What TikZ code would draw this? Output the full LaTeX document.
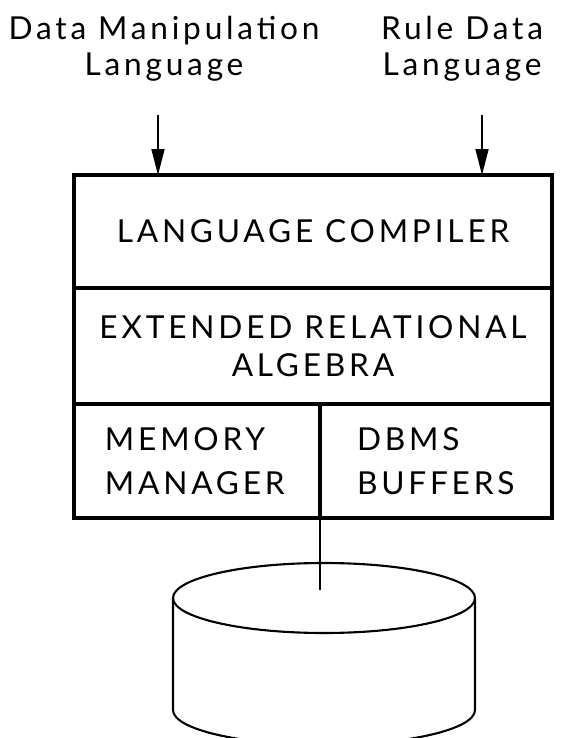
\documentclass[tikz,border=0pt]{standalone}
\usepackage{fontspec}
\setmainfont{Lato}[LetterSpace=12]
\usetikzlibrary{arrows.meta,positioning}
\tikzset{
  layer/.style={
    rectangle, draw=black, line width=3.2pt, outer sep=0pt, inner sep=0pt,
    minimum width=14.34cm, align=center, font=\fontsize{27}{32}\selectfont
  },
  halflayer/.style={layer, minimum height=3.42cm, align=left},
  inlabel/.style={font=\fontsize{27}{31}\selectfont, align=center, inner sep=0pt},
  flowarrow/.style={-{Triangle[length=22pt,width=11pt]}, line width=1.4pt},
  disk/.style={line width=1.8pt},
}
\begin{document}
\begin{tikzpicture}[x=0.03cm, y=-0.03cm]
  \useasboundingbox (0,0) rectangle (561,738);
  \clip (0,0) rectangle (561,738);
  \node (dml) [inlabel] at (164,49) {Data Manipulation\\Language};
  \node (rdl) [inlabel] at (462,49) {Rule Data\\Language};
  \node (compiler) [layer, minimum height=3.39cm] at (313,231.5) {LANGUAGE COMPILER};
  \node (algebra) [layer, minimum height=3.48cm, below=0pt of compiler] {EXTENDED RELATIONAL\\ALGEBRA};
  \node (memmgr) [halflayer, minimum width=7.38cm, text width=5.52cm, below right=0pt and 0pt of algebra.south west] {MEMORY\\[5pt]MANAGER};
  \node (buffers) [halflayer, minimum width=6.96cm, text width=4.74cm, right=0pt of memmgr] {DBMS\\[5pt]BUFFERS};
  \coordinate (dmltail) at (158,115);
  \coordinate (rdltail) at (482,115);
  \coordinate (diskhub) at (320,590);
  \draw[flowarrow] (dmltail) -- (dmltail |- compiler.north);
  \draw[flowarrow] (rdltail) -- (rdltail |- compiler.north);
  \draw[line width=1.4pt] (memmgr.south east) -- (diskhub);
  \draw[disk] (324,598) ellipse [x radius=151, y radius=35];
  \draw[disk] (173,598) -- (173,710) arc[start angle=180, end angle=0, x radius=151, y radius=35] -- (475,598);
\end{tikzpicture}
\end{document}
